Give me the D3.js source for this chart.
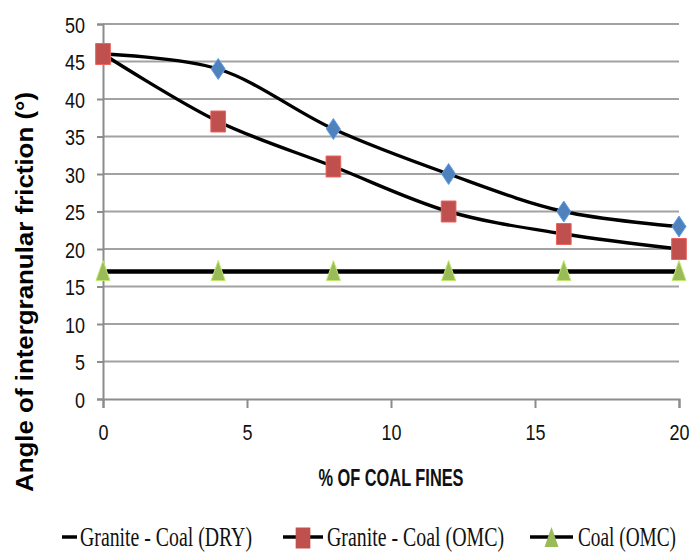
<!DOCTYPE html>
<html>
<head>
<meta charset="utf-8">
<script src="https://cdn.jsdelivr.net/npm/d3@7"></script>
<style>
  html, body { margin: 0; padding: 0; background: #ffffff; }
  svg { display: block; }
</style>
</head>
<body>
<svg id="chart" width="689" height="552"></svg>
<script>
// Angle of intergranular friction against coal-fines content
const percentFines = [0, 4, 8, 12, 16, 20];
const dryAngle  = [46, 44, 36, 30, 25, 23];   // Granite - Coal (DRY)
const omcAngle  = [46, 37, 31, 25, 22, 20];   // Granite - Coal (OMC)
const coalAngle = [17, 17, 17, 17, 17, 17];   // Coal (OMC)

const seriesNames = ["Granite - Coal (DRY)", "Granite - Coal (OMC)", "Coal (OMC)"];
const xTickValues = [0, 5, 10, 15, 20];
const yTickValues = [0, 5, 10, 15, 20, 25, 30, 35, 40, 45, 50];
const xTitle = "% OF COAL FINES";
const yTitle = "Angle of intergranular friction (°)";

const svg = d3.select("#chart");

const x = d3.scaleLinear().domain([0, 20]).range([103, 679]);
const y = d3.scaleLinear().domain([0, 50]).range([399, 24]);

const sansFont = "'Liberation Sans', Arial, sans-serif";
const serifFont = "'Liberation Serif', 'Times New Roman', serif";

// custom marker shapes (taller than wide)
const diamondShape = {
  draw(ctx, size) {
    const h = Math.sqrt(size), w = h * 0.67;
    ctx.moveTo(0, -h / 2); ctx.lineTo(w / 2, 0); ctx.lineTo(0, h / 2); ctx.lineTo(-w / 2, 0); ctx.closePath();
  }
};
const squareShape = {
  draw(ctx, size) {
    const h = Math.sqrt(size), w = h * 0.7;
    ctx.rect(-w / 2, -h / 2, w, h);
  }
};
const triangleShape = {
  draw(ctx, size) {
    const h = Math.sqrt(size), w = h * 0.7;
    ctx.moveTo(0, -h * 0.55); ctx.lineTo(w / 2, h * 0.45); ctx.lineTo(-w / 2, h * 0.45); ctx.closePath();
  }
};

// gridlines
svg.append("g")
  .selectAll("line")
  .data(yTickValues.filter(d => d > 0))
  .join("line")
  .attr("x1", x(0)).attr("x2", x(20))
  .attr("y1", d => y(d)).attr("y2", d => y(d))
  .attr("stroke", "#a2a2a2")
  .attr("stroke-width", 2);

// y axis (labels are narrow and tall: small font stretched vertically)
const yAxis = svg.append("g")
  .attr("transform", `translate(${x(0)},0)`)
  .call(d3.axisLeft(y).tickValues(yTickValues).tickSize(6));
yAxis.select(".domain").attr("stroke", "#8c8c8c").attr("stroke-width", 2);
yAxis.selectAll(".tick line").attr("stroke", "#8c8c8c").attr("stroke-width", 2);
yAxis.selectAll(".tick text")
  .attr("x", 0).attr("y", 0).attr("dy", null)
  .attr("transform", "translate(-18,8) scale(1,1.22)")
  .attr("font-family", sansFont)
  .attr("font-size", 18)
  .attr("fill", "#111");

// x axis
const xAxis = svg.append("g")
  .attr("transform", `translate(0,${y(0)})`)
  .call(d3.axisBottom(x).tickValues(xTickValues).tickSize(9));
xAxis.select(".domain").attr("stroke", "#8c8c8c").attr("stroke-width", 2);
xAxis.selectAll(".tick line").attr("stroke", "#8c8c8c").attr("stroke-width", 2);
xAxis.selectAll(".tick text")
  .attr("x", 0).attr("y", 0).attr("dy", null)
  .attr("transform", "translate(0,41) scale(1,1.22)")
  .attr("font-family", sansFont)
  .attr("font-size", 18)
  .attr("fill", "#111");

// axis titles
svg.append("text")
  .attr("transform", "translate(391,486) scale(1,1.45)")
  .attr("text-anchor", "middle")
  .attr("font-family", sansFont)
  .attr("font-weight", "bold")
  .attr("font-size", 16)
  .attr("fill", "#111")
  .attr("textLength", 145)
  .attr("lengthAdjust", "spacingAndGlyphs")
  .text(xTitle);

svg.append("text")
  .attr("transform", "translate(33,292) rotate(-90)")
  .attr("text-anchor", "middle")
  .attr("font-family", sansFont)
  .attr("font-weight", "bold")
  .attr("font-size", 24)
  .attr("fill", "#000")
  .attr("textLength", 400)
  .attr("lengthAdjust", "spacingAndGlyphs")
  .text(yTitle);

// series
const smooth = d3.line()
  .x(d => x(d[0]))
  .y(d => y(d[1]))
  .curve(d3.curveCatmullRom.alpha(0.5));

const series = [
  { name: seriesNames[0], values: dryAngle, shape: diamondShape, size: 21 * 21, color: "#4f81bd", width: 3.4 },
  { name: seriesNames[1], values: omcAngle, shape: squareShape, size: 21 * 21, color: "#c0504d", width: 3.4 },
  { name: seriesNames[2], values: coalAngle, shape: triangleShape, size: 20 * 20, color: "#9bbb59", width: 4.5 }
];

series.forEach(s => {
  const pts = percentFines.map((p, i) => [p, s.values[i]]);
  svg.append("path")
    .datum(pts)
    .attr("d", smooth)
    .attr("fill", "none")
    .attr("stroke", "#000")
    .attr("stroke-width", s.width)
    .attr("stroke-linecap", "round");
});

// markers drawn after all lines (DRY first so OMC squares sit on top)
series.forEach(s => {
  const sym = d3.symbol().type(s.shape).size(s.size);
  svg.append("g")
    .selectAll("path")
    .data(percentFines.map((p, i) => [p, s.values[i]]))
    .join("path")
    .attr("transform", d => `translate(${x(d[0])},${y(d[1])})`)
    .attr("d", sym)
    .attr("fill", s.color)
    .attr("stroke", d3.color(s.color).brighter(0.6))
    .attr("stroke-width", 1);
});

// legend
const legendItems = [
  { name: seriesNames[0], lineX: [62, 77], marker: null, textX: 80, textLen: 172 },
  { name: seriesNames[1], lineX: [283, 323], marker: series[1], textX: 327, textLen: 177 },
  { name: seriesNames[2], lineX: [530, 573], marker: series[2], textX: 578, textLen: 98 }
];
const legend = svg.append("g");
legendItems.forEach(item => {
  legend.append("line")
    .attr("x1", item.lineX[0]).attr("x2", item.lineX[1])
    .attr("y1", 537).attr("y2", 537)
    .attr("stroke", "#000")
    .attr("stroke-width", 3.5);
  if (item.marker) {
    legend.append("path")
      .attr("transform", `translate(${(item.lineX[0] + item.lineX[1]) / 2},538)`)
      .attr("d", d3.symbol().type(item.marker.shape).size(item.marker.size)())
      .attr("fill", item.marker.color);
  }
  legend.append("text")
    .attr("transform", `translate(${item.textX},546) scale(1,1.38)`)
    .attr("font-family", serifFont)
    .attr("font-size", 19.5)
    .attr("fill", "#111")
    .attr("textLength", item.textLen)
    .attr("lengthAdjust", "spacingAndGlyphs")
    .text(item.name);
});
</script>
</body>
</html>
